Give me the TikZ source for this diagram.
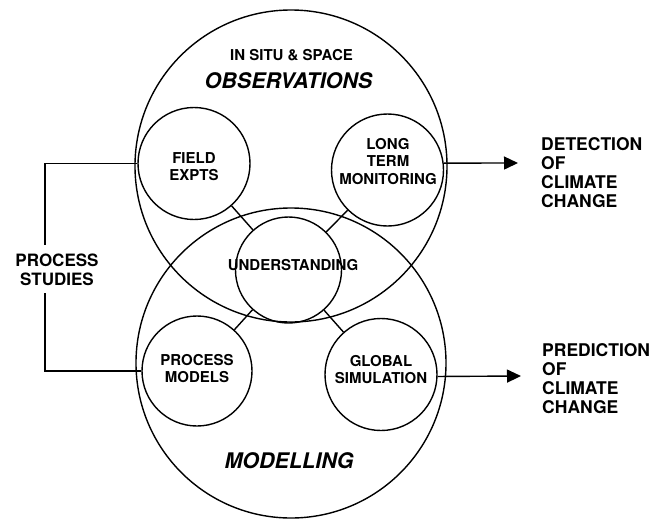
\documentclass[tikz,border=0pt]{standalone}
\usepackage{fontspec}
\setmainfont{TeX Gyre Heros}
\usetikzlibrary{arrows.meta}

\begin{document}
\begin{tikzpicture}[x=1pt,y=-1pt,
  ring/.style={circle,draw,line width=1.4pt,inner sep=0pt},
  lbl/.style={align=center,inner sep=0pt,font=\fontsize{15}{17.5}\selectfont\bfseries},
  side/.style={anchor=north west,align=left,inner sep=0pt,font=\fontsize{17.5}{19}\selectfont\bfseries},
  head/.style={inner sep=0pt,font=\fontsize{21.5}{25}\selectfont\bfseries\itshape},
  link/.style={line width=1.4pt},
  arr/.style={line width=1.4pt,-{Triangle[length=14pt,width=13pt]}}]
\path[use as bounding box] (0,0) rectangle (664,520);
% the two large circles
\node[ring,minimum size=312pt] (obs) at (291,166) {};
\node[ring,minimum size=310pt] (mod) at (291,363) {};
\node[lbl] (insitu) at (291.5,55) {IN SITU \& SPACE};
\node[head] (obsT) at (288.5,80.5) {OBSERVATIONS};
\node[head] (modT) at (289,460.5) {MODELLING};
% the five small circles
\node[ring,minimum size=112pt] (fe) at (194,163.5) {};
\node[ring,minimum size=112pt] (lt) at (387.5,170) {};
\node[ring,minimum size=106pt] (und) at (288.5,270) {};
\node[ring,minimum size=110pt] (pm) at (197,371) {};
\node[ring,minimum size=112pt] (gs) at (381,374.5) {};
\node[lbl] (feT) at (194,166.5) {FIELD\\EXPTS};
\node[lbl] (ltT) at (388,161.5) {LONG\\TERM\\MONITORING};
\node[lbl] (undT) at (293,265) {UNDERSTANDING};
\node[lbl] (pmT) at (197,368.5) {PROCESS\\MODELS};
\node[lbl] (gsT) at (381,369.5) {GLOBAL\\SIMULATION};
\draw[link] (fe) -- (und);
\draw[link] (lt) -- (und);
\draw[link] (pm) -- (und);
\draw[link] (gs) -- (und);
% process studies bracket
\node[lbl,font=\fontsize{17}{19}\selectfont\bfseries] (ps) at (57,270) {PROCESS\\STUDIES};
\coordinate (psa) at (45,245);
\coordinate (psb) at (45,293);
\draw[link] (fe.west) -| (psa);
\draw[link] (pm.west) -| (psb);
% outputs
\node[side] (det) at (541,137) {DETECTION\\OF\\CLIMATE\\CHANGE};
\node[side] (pred) at (542,343) {PREDICTION\\OF\\CLIMATE\\CHANGE};
\coordinate (detA) at (518,163);
\coordinate (predA) at (521,376);
\draw[arr] (lt.7) -- (detA);
\draw[arr] (gs.-2) -- (predA);
\end{tikzpicture}
\end{document}
